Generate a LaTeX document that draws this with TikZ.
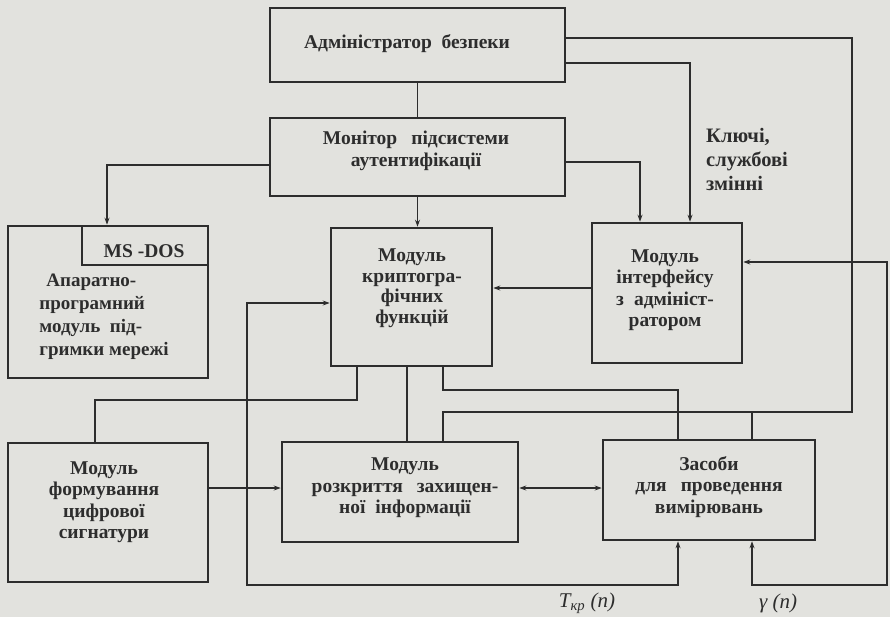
\documentclass[tikz,border=0pt]{standalone}
\usepackage{fontspec}
\setmainfont{Liberation Serif}
\usetikzlibrary{arrows.meta}
\definecolor{paper}{RGB}{226,226,222}
\definecolor{ink}{RGB}{45,45,45}
\begin{document}
\begin{tikzpicture}[x=1pt,y=-1pt,
  box/.style={draw=ink, line width=2.6pt, rectangle, inner sep=0pt},
  inbox/.style={draw=ink, line width=1.8pt, rectangle, inner sep=0pt},
  txt/.style={text=ink, align=center, inner sep=0pt, font=\fontsize{19.5}{21.5}\selectfont\bfseries},
  wire/.style={draw=ink, line width=1.7pt},
  arr/.style={wire, -{Stealth[length=7pt,width=5pt]}},
  dar/.style={wire, {Stealth[length=7pt,width=5pt]}-{Stealth[length=7pt,width=5pt]}},
  lbl/.style={text=ink, inner sep=0pt, font=\fontsize{21}{23}\selectfont\itshape}]
\fill[paper] (0,0) rectangle (890,617);
\useasboundingbox (0,0) rectangle (890,617);

% boxes
\node[box, minimum width=295pt, minimum height=74pt] (admin) at (417.5,45) {};
\node[box, minimum width=295pt, minimum height=78pt] (mon) at (417.5,157) {};
\node[box, minimum width=200pt, minimum height=152pt] (msdos) at (108,302) {};
\node[inbox, minimum width=126pt, minimum height=39pt] (dosin) at (145,245.5) {};
\node[box, minimum width=161pt, minimum height=138pt] (crypto) at (411.5,297) {};
\node[box, minimum width=150pt, minimum height=140pt] (iface) at (667,293) {};
\node[box, minimum width=200pt, minimum height=139pt] (sig) at (108,512.5) {};
\node[box, minimum width=236pt, minimum height=100pt] (rozkr) at (400,492) {};
\node[box, minimum width=212pt, minimum height=100pt] (zasoby) at (709,490) {};

% texts
\node[txt] (tadmin) at (407,44) {Адміністратор\ \ безпеки};
\node[txt] (tmon) at (416,151) {Монітор\hspace{14pt}підсистеми\\аутентифікації};
\node[txt] (tdos) at (144,251) {MS -DOS};
\node[txt, align=left, font=\fontsize{19}{23}\selectfont\bfseries] (tdos2) at (104,317) {\hspace{7pt}Апаратно-\\програмний\\модуль\ \ під-\\гримки мережі};
\node[txt, font=\fontsize{19.5}{20.5}\selectfont\bfseries] (tcrypto) at (412,288) {Модуль\\криптогра-\\фічних\\функцій};
\node[txt] (tiface) at (665,290) {Модуль\\інтерфейсу\\з\hspace{10pt}адмініст-\\ратором};
\node[txt] (tsig) at (104,502) {Модуль\\формування\\цифрової\\сигнатури};
\node[txt] (trozkr) at (405,488) {Модуль\\розкриття\hspace{14pt}захищен-\\ної\hspace{10pt}інформації};
\node[txt] (tzas) at (709,487) {Засоби\\для\hspace{14pt}проведення\\вимірювань};
\node[txt, align=left, anchor=west, font=\fontsize{20.5}{24}\selectfont\bfseries] (keys) at (706,159) {Ключі,\\службові\\змінні};

% junction coordinates
\coordinate (a1) at (852,38);
\coordinate (a2) at (852,412);
\coordinate (a3) at (443,412);
\coordinate (a4) at (752,412);
\coordinate (b1) at (690,63);
\coordinate (c1) at (640,162);
\coordinate (d1) at (107,165);
\coordinate (f1) at (500,288);
\coordinate (g1) at (357,400);
\coordinate (g2) at (95,400);
\coordinate (h1) at (407,400);
\coordinate (k1) at (443,390);
\coordinate (k2) at (678,390);
\coordinate (m1) at (250,488);
\coordinate (n1) at (678,585);
\coordinate (n2) at (247,585);
\coordinate (n3) at (247,303);
\coordinate (p1) at (752,585);
\coordinate (p2) at (887,585);
\coordinate (p3) at (887,262);

% connectors
\draw[wire] (admin.south) -- (mon.north);
\draw[wire] (admin.east |- a1) -- (a1) -- (a2) -- (a3) -- (a3 |- rozkr.north);
\draw[wire] (a4) -- (a4 |- zasoby.north);
\draw[arr] (admin.east |- b1) -- (b1) -- (b1 |- iface.north);
\draw[arr] (mon.east |- c1) -- (c1) -- (c1 |- iface.north);
\draw[arr] (mon.west |- d1) -- (d1) -- (d1 |- msdos.north);
\draw[arr] (mon.south) -- (mon.south |- crypto.north);
\draw[arr] (iface.west |- f1) -- (crypto.east |- f1);
\draw[wire] (g1 |- crypto.south) -- (g1) -- (g2) -- (g2 |- sig.north);
\draw[wire] (h1 |- crypto.south) -- (h1 |- rozkr.north);
\draw[wire] (k1 |- crypto.south) -- (k1) -- (k2) -- (k2 |- zasoby.north);
\draw[arr] (sig.east |- m1) -- (rozkr.west |- m1);
\draw[dar] (rozkr.east |- m1) -- (zasoby.west |- m1);
\draw[dar] (crypto.west |- n3) -- (n3) -- (n2) -- (n1) -- (n1 |- zasoby.south);
\draw[dar] (iface.east |- p3) -- (p3) -- (p2) -- (p1) -- (p1 |- zasoby.south);

% labels
\node[lbl] (ltkr) at (587,603) {T\textsubscript{кр} (n)};
\node[lbl] (lgam) at (778,603) {γ (n)};
\end{tikzpicture}
\end{document}
